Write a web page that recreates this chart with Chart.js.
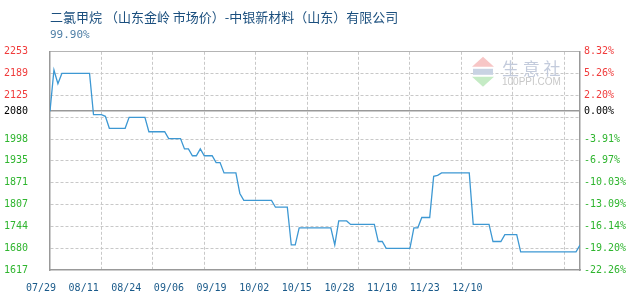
<!DOCTYPE html>
<html>
<head>
<meta charset="utf-8">
<script src="https://cdn.jsdelivr.net/npm/chart.js@4.4.1/dist/chart.umd.min.js"></script>
<style>
  html, body { margin: 0; padding: 0; background: #fff; }
  #wrap { width: 630px; height: 300px; }
</style>
</head>
<body>
<div id="wrap"><canvas id="price-chart"></canvas></div>
<script>
// Données
const titleText = "二氯甲烷 （山东金岭 市场价）-中银新材料（山东）有限公司";
const subtitleText = "99.90%";
const basePrice = 2080;
const yMin = 1617;
const yMax = 2253;
const gridStep = 13; // une ligne verticale tous les 13 jours

const xLabels = ["07/29", "08/11", "08/24", "09/06", "09/19", "10/02", "10/15", "10/28", "11/10", "11/23", "12/10"];

const yTickValues = [2253, 2189.4, 2125.8, 2080, 2062.2, 1998.6, 1935, 1871.4, 1807.8, 1744.2, 1680.6, 1617];
const leftLabels = ["2253", "2189", "2125", "2080", "", "1998", "1935", "1871", "1807", "1744", "1680", "1617"];
const rightLabels = ["8.32%", "5.26%", "2.20%", "0.00%", "", "-3.91%", "-6.97%", "-10.03%", "-13.09%", "-16.14%", "-19.20%", "-22.26%"];

// prix journaliers du 07/29 au 12/10
const prices = [
  2080, 2200, 2160, 2190, 2190, 2190, 2190, 2190, 2190, 2190,
  2190, 2070, 2070, 2070, 2065, 2030, 2030, 2030, 2030, 2030,
  2062, 2062, 2062, 2062, 2062, 2020, 2020, 2020, 2020, 2020,
  2000, 2000, 2000, 2000, 1970, 1970, 1950, 1950, 1970, 1950,
  1950, 1950, 1930, 1930, 1900, 1900, 1900, 1900, 1840, 1820,
  1820, 1820, 1820, 1820, 1820, 1820, 1820, 1800, 1800, 1800,
  1800, 1690, 1690, 1740, 1740, 1740, 1740, 1740, 1740, 1740,
  1740, 1740, 1690, 1760, 1760, 1760, 1750, 1750, 1750, 1750,
  1750, 1750, 1750, 1700, 1700, 1680, 1680, 1680, 1680, 1680,
  1680, 1680, 1740, 1740, 1770, 1770, 1770, 1890, 1893, 1900,
  1900, 1900, 1900, 1900, 1900, 1900, 1900, 1750, 1750, 1750,
  1750, 1750, 1700, 1700, 1700, 1720, 1720, 1720, 1720, 1670,
  1670, 1670, 1670, 1670, 1670, 1670, 1670, 1670, 1670, 1670,
  1670, 1670, 1670, 1670, 1690
];

const monoFont = { family: "'DejaVu Sans Mono', monospace", size: 10 };

function tickColor(c) {
  const v = c.tick.value;
  if (v > basePrice) return "#f03c3c";
  if (v < basePrice) return "#2fb52f";
  return "#000";
}

function setYTicks(axis) {
  axis.ticks = yTickValues.map((v) => ({ value: v }));
}

// Filigrane du site
const watermark = {
  id: "watermark",
  beforeDatasetsDraw(chart) {
    const { ctx, chartArea } = chart;
    const x = chartArea.right - 108;
    const y = chartArea.top + 5;
    ctx.save();
    ctx.fillStyle = "#f7c6c6";
    ctx.beginPath();
    ctx.moveTo(x + 11, y);
    ctx.lineTo(x + 22, y + 10);
    ctx.lineTo(x, y + 10);
    ctx.fill();
    ctx.fillStyle = "#c9d3e3";
    ctx.fillRect(x + 1, y + 12, 20, 6);
    ctx.fillStyle = "#c5ebc5";
    ctx.beginPath();
    ctx.moveTo(x, y + 20);
    ctx.lineTo(x + 22, y + 20);
    ctx.lineTo(x + 11, y + 30);
    ctx.fill();
    ctx.fillStyle = "#c3cbdc";
    ctx.font = "17px 'Noto Sans CJK SC'";
    ctx.textBaseline = "alphabetic";
    ctx.fillText("生 意 社", x + 30, y + 18);
    ctx.fillStyle = "#c8c8c8";
    ctx.font = "10px 'Liberation Sans'";
    ctx.fillText("100PPI.COM", x + 30, y + 28);
    ctx.restore();
  },
};

document.addEventListener("DOMContentLoaded", function () {
  const ctx = document.getElementById("price-chart").getContext("2d");
  new Chart(ctx, {
    type: "line",
    data: {
      datasets: [
        {
          data: prices.map((v, i) => ({ x: i, y: v })),
          borderColor: "#3d98d3",
          borderWidth: 1.3,
          pointRadius: 0,
          tension: 0,
          fill: false,
          xAxisID: "x",
          yAxisID: "y",
        },
      ],
    },
    options: {
      responsive: true,
      maintainAspectRatio: false,
      animation: false,
      layout: { padding: { left: 4, right: 4, top: 0, bottom: 7 } },
      plugins: {
        legend: { display: false },
        tooltip: { enabled: false },
        title: {
          display: true,
          text: titleText,
          align: "start",
          fullSize: false,
          color: "#1b4f7e",
          font: { family: "'Noto Sans CJK SC'", size: 13, weight: "normal" },
          padding: { top: 9, bottom: 1 },
        },
        subtitle: {
          display: true,
          text: subtitleText,
          align: "start",
          fullSize: false,
          color: "#4f7fa6",
          font: { family: "'DejaVu Sans Mono', monospace", size: 11 },
          padding: { top: 3, bottom: 10 },
        },
      },
      scales: {
        x: {
          type: "linear",
          position: "bottom",
          weight: 0,
          min: 0,
          max: prices.length - 1,
          afterBuildTicks: (axis) => {
            axis.ticks = [];
            for (let v = 0; v < prices.length; v += gridStep) axis.ticks.push({ value: v });
          },
          afterFit: (axis) => { axis.height = 0; },
          ticks: { display: false },
          grid: {
            drawTicks: false,
            color: (c) => (c.tick && c.tick.value === 0 ? "transparent" : "#c8c8c8"),
          },
          border: { display: true, color: "#999", width: 1.5, dash: [3, 2] },
        },
        xl: {
          type: "linear",
          position: "bottom",
          weight: 1,
          min: 0,
          max: 12.43,
          afterBuildTicks: (axis) => {
            axis.ticks = xLabels.map((_, i) => ({ value: i }));
          },
          afterFit: (axis) => { axis.height = 23; },
          ticks: {
            autoSkip: false,
            maxRotation: 0,
            labelOffset: -9,
            padding: 12,
            color: "#1a5a8a",
            font: monoFont,
            callback: (v, i) => xLabels[i],
          },
          grid: { display: false, drawTicks: false },
          border: { display: false },
        },
        y: {
          type: "linear",
          position: "left",
          weight: 1,
          min: yMin,
          max: yMax,
          afterBuildTicks: setYTicks,
          afterFit: (axis) => { axis.width = 46; },
          ticks: {
            autoSkip: false,
            padding: 22,
            color: tickColor,
            font: monoFont,
            callback: (v, i) => leftLabels[i],
          },
          grid: {
            drawTicks: false,
            color: (c) => {
              const v = c.tick && c.tick.value;
              return v === yMax || v === yMin || v === basePrice ? "transparent" : "#c8c8c8";
            },
          },
          border: { display: true, color: "#999", width: 1.5, dash: [3, 2] },
        },
        yBase: {
          type: "linear",
          position: "left",
          weight: 0,
          min: yMin,
          max: yMax,
          afterBuildTicks: (axis) => {
            axis.ticks = [{ value: yMax }, { value: basePrice }];
          },
          afterFit: (axis) => { axis.width = 0; },
          ticks: { display: false },
          grid: {
            drawTicks: false,
            color: (c) => (c.tick && c.tick.value === basePrice ? "#999" : "#b4b4b4"),
            lineWidth: (c) => (c.tick && c.tick.value === basePrice ? 1.5 : 1),
          },
          border: { display: false },
        },
        y2: {
          type: "linear",
          position: "right",
          min: yMin,
          max: yMax,
          afterBuildTicks: setYTicks,
          afterFit: (axis) => { axis.width = 46; },
          ticks: {
            autoSkip: false,
            padding: 4,
            color: tickColor,
            font: monoFont,
            callback: (v, i) => rightLabels[i],
          },
          grid: { display: false, drawTicks: false },
          border: { display: true, color: "#999", width: 1.5 },
        },
      },
    },
    plugins: [watermark],
  });
});
</script>
</body>
</html>
